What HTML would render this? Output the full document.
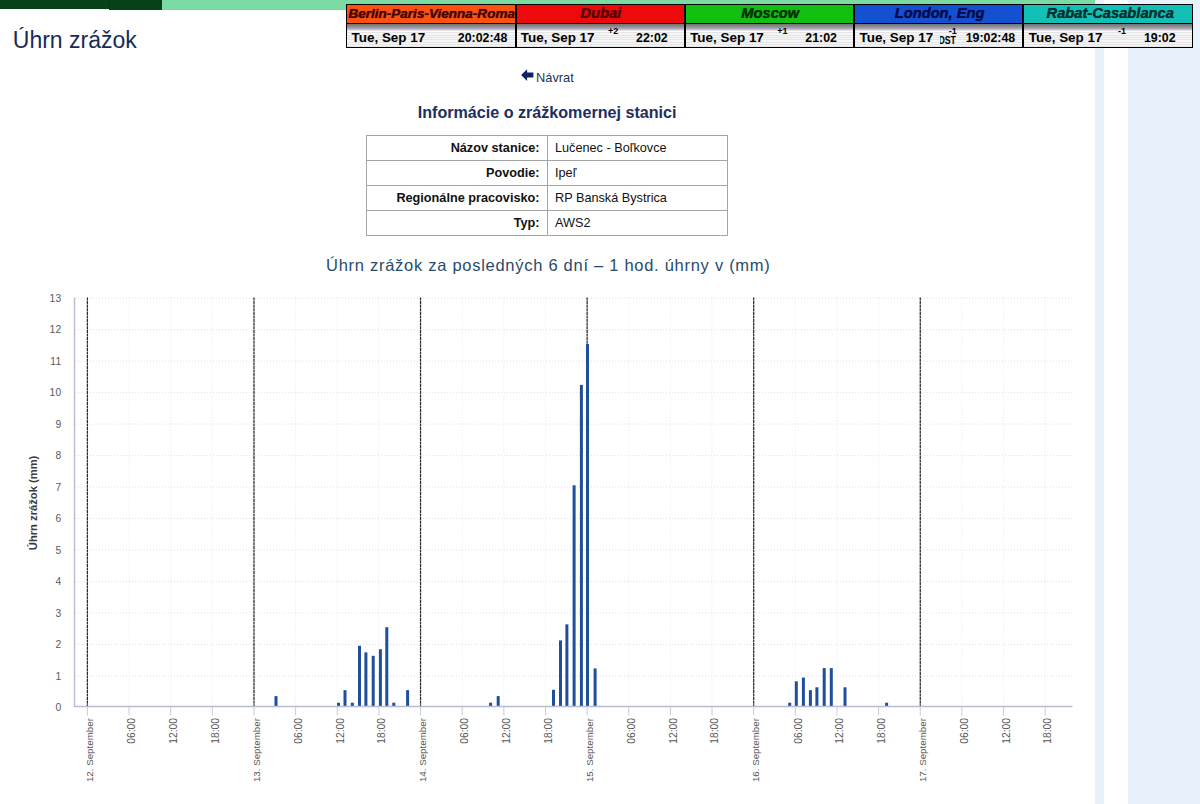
<!DOCTYPE html>
<html lang="sk"><head><meta charset="utf-8"><title>Úhrn zrážok</title>
<style>
html,body{margin:0;padding:0}
html{width:1200px;height:804px;overflow:hidden}
body{width:1200px;height:804px;position:relative;overflow:hidden;background:#fff;font-family:"Liberation Sans",sans-serif;}
.abs{position:absolute}
.g1{left:0;top:0;width:109px;height:8.6px;background:#06411a}
.g2{left:109px;top:0;width:53px;height:9.7px;background:#06411a}
.g3{left:162px;top:0;width:933.8px;height:9.6px;background:#7cdba3}
.col1{left:1095px;top:0;width:9px;height:804px;background:#e9f1fa}
.col2{left:1127.5px;top:0;width:72.5px;height:804px;background:#e8f2fc}
h1{position:absolute;left:12.8px;top:25.3px;margin:0;font-weight:normal;font-size:23px;line-height:30px;color:#182b59;white-space:nowrap}
.back{position:absolute;left:536.1px;top:68.8px;font-size:12.8px;line-height:18px;color:#22325a;white-space:nowrap}
.arrow{position:absolute;left:520.8px;top:69px}
h2{position:absolute;left:0;width:1094.2px;top:102px;margin:0;text-align:center;font-size:16.12px;line-height:20px;font-weight:bold;color:#1c2f5e;white-space:nowrap}
table.info{position:absolute;left:366px;top:135px;width:362px;table-layout:fixed;border-collapse:collapse;font-size:12.7px;color:#111}
table.info td{border:1px solid #a5a5a5;height:24px;padding:0 7px 0 7.5px;line-height:16px;white-space:nowrap}
table.info td.l{width:50%;text-align:right;font-weight:bold}
table.info td.r{width:50%;text-align:left}
.ctitle{position:absolute;left:0;width:1096.6px;top:254.4px;text-align:center;font-size:16.5px;line-height:22px;color:#274b6d;letter-spacing:0.72px;white-space:nowrap}
svg.chart{position:absolute;left:0;top:270px}
.g{stroke:#e0e0e0;stroke-width:1;stroke-dasharray:1 2;fill:none}
.g.v{stroke:#e8e8e8}
.d{stroke:#2a2a2a;stroke-width:1.25;stroke-dasharray:3.1 0.5;fill:none}
.b{fill:#1f4f9b}
.ax{stroke:#b9bdd4;stroke-width:1.4;fill:none}
.tk{stroke:#c6cade;stroke-width:1;fill:none}
.xl{font-family:"Liberation Sans",sans-serif;font-size:9.7px;fill:#555}
.xt{font-size:10.25px}
.xd{font-size:9.75px}
.yl{font-family:"Liberation Sans",sans-serif;font-size:10.3px;letter-spacing:0.3px;fill:#5a5a5a}
.yt{font-family:"Liberation Sans",sans-serif;font-size:11.2px;fill:#3c3c3c;font-weight:bold}
.clock{position:absolute;left:346.25px;top:4px;width:846.75px;height:44px;background:#000}
.cc{position:absolute;top:0;height:44px;box-sizing:border-box;border-left:1.2px solid #000;border-right:0.6px solid #000;border-top:1px solid #000;border-bottom:1px solid #000}
.ct{position:absolute;left:0;right:0;top:0;height:18px;text-align:center;font-weight:bold;font-style:italic;line-height:17.2px;white-space:nowrap;overflow:hidden;text-shadow:0 0 0.7px currentColor}
.ct span{position:relative;left:0.8px}
.cb{position:absolute;left:0;right:0;top:19px;bottom:0;background:linear-gradient(#707570 0,#8c8c90 2.5px,#b4aec0 5px,#fff 7.3px,rgba(255,255,255,0) 8px),repeating-linear-gradient(#f6f6f6 0,#f6f6f6 1.1px,#e5e5e5 1.3px,#e5e5e5 2.2px,#f6f6f6 2.35px);font-weight:bold;color:#000;font-size:13px;line-height:16px;white-space:nowrap}
.cb span{position:absolute}
.dt{left:4.3px;top:6.1px;font-size:13.45px}
.tm{left:105.3px;width:60px;text-align:center;top:6.1px;font-size:12.4px}
.off{right:65.7px;top:2.2px;font-size:9px;line-height:10px}
.dst{left:84.6px;top:10.2px;width:16px;height:12px;overflow:hidden;font-size:11px;line-height:12px}
.dst i{position:absolute;right:0;top:0;font-style:normal;transform:scaleX(0.8);transform-origin:100% 50%}
</style></head>
<body>
<div class="abs g3"></div><div class="abs g1"></div><div class="abs g2"></div><div class="abs" style="left:108.6px;top:0;width:1.2px;height:9.7px;background:#05361a"></div>
<div class="abs col1"></div><div class="abs col2"></div>
<div class="clock">
<div class="cc" style="left:0.00px;width:169.31px"><div class="ct" style="background:#ff5210;color:#470500;font-size:13.55px"><span style="left:0.8px">Berlin-Paris-Vienna-Roma</span></div><div class="cb"><span class="dt">Tue, Sep 17</span><span class="tm">20:02:48</span></div></div>
<div class="cc" style="left:169.31px;width:169.31px"><div class="ct" style="background:#ee0a0a;color:#560000;font-size:14.7px"><span style="left:0.8px">Dubai</span></div><div class="cb"><span class="dt">Tue, Sep 17</span><span class="off">+2</span><span class="tm">22:02</span></div></div>
<div class="cc" style="left:338.62px;width:169.31px"><div class="ct" style="background:#12c012;color:#003000;font-size:14.7px"><span style="left:0.8px">Moscow</span></div><div class="cb"><span class="dt">Tue, Sep 17</span><span class="off">+1</span><span class="tm">21:02</span></div></div>
<div class="cc" style="left:507.93px;width:169.31px"><div class="ct" style="background:#1450d2;color:#000c4c;font-size:14.7px"><span style="left:0.8px">London, Eng</span></div><div class="cb"><span class="dt">Tue, Sep 17</span><span class="off">-1</span><span class="dst"><i>DST</i></span><span class="tm">19:02:48</span></div></div>
<div class="cc" style="left:677.24px;width:169.31px"><div class="ct" style="background:#12c0b8;color:#003030;font-size:14.7px"><span style="left:2.1px">Rabat-Casablanca</span></div><div class="cb"><span class="dt">Tue, Sep 17</span><span class="off">-1</span><span class="tm">19:02</span></div></div>
</div>
<h1>Úhrn zrážok</h1>
<svg class="arrow" width="13" height="13" viewBox="0 0 13 13"><path d="M6.1 0.2 L6.1 3.4 L12.4 3.4 L12.4 8.5 L6.1 8.5 L6.1 11.9 L0.1 6 Z" fill="#0f2268"/></svg>
<div class="back">Návrat</div>
<h2>Informácie o zrážkomernej stanici</h2>
<table class="info">
<tr><td class="l">Názov stanice:</td><td class="r">Lučenec - Boľkovce</td></tr>
<tr><td class="l">Povodie:</td><td class="r">Ipeľ</td></tr>
<tr><td class="l">Regionálne pracovisko:</td><td class="r">RP Banská Bystrica</td></tr>
<tr><td class="l">Typ:</td><td class="r">AWS2</td></tr>
</table>
<div class="ctitle">Úhrn zrážok za posledných 6 dní – 1 hod. úhrny v (mm)</div>
<svg class="chart" width="1095" height="534" viewBox="0 270 1095 534">
<line x1="75" x2="1072" y1="675.83" y2="675.83" class="g"/>
<line x1="75" x2="1072" y1="644.36" y2="644.36" class="g"/>
<line x1="75" x2="1072" y1="612.89" y2="612.89" class="g"/>
<line x1="75" x2="1072" y1="581.42" y2="581.42" class="g"/>
<line x1="75" x2="1072" y1="549.95" y2="549.95" class="g"/>
<line x1="75" x2="1072" y1="518.48" y2="518.48" class="g"/>
<line x1="75" x2="1072" y1="487.01" y2="487.01" class="g"/>
<line x1="75" x2="1072" y1="455.54" y2="455.54" class="g"/>
<line x1="75" x2="1072" y1="424.07" y2="424.07" class="g"/>
<line x1="75" x2="1072" y1="392.60" y2="392.60" class="g"/>
<line x1="75" x2="1072" y1="361.13" y2="361.13" class="g"/>
<line x1="75" x2="1072" y1="329.66" y2="329.66" class="g"/>
<line x1="75" x2="1072" y1="298.19" y2="298.19" class="g"/>
<line x1="129.04" x2="129.04" y1="297.39" y2="706.50" class="g v"/>
<line x1="170.69" x2="170.69" y1="297.39" y2="706.50" class="g v"/>
<line x1="212.33" x2="212.33" y1="297.39" y2="706.50" class="g v"/>
<line x1="295.62" x2="295.62" y1="297.39" y2="706.50" class="g v"/>
<line x1="337.26" x2="337.26" y1="297.39" y2="706.50" class="g v"/>
<line x1="378.90" x2="378.90" y1="297.39" y2="706.50" class="g v"/>
<line x1="462.19" x2="462.19" y1="297.39" y2="706.50" class="g v"/>
<line x1="503.83" x2="503.83" y1="297.39" y2="706.50" class="g v"/>
<line x1="545.47" x2="545.47" y1="297.39" y2="706.50" class="g v"/>
<line x1="628.76" x2="628.76" y1="297.39" y2="706.50" class="g v"/>
<line x1="670.40" x2="670.40" y1="297.39" y2="706.50" class="g v"/>
<line x1="712.04" x2="712.04" y1="297.39" y2="706.50" class="g v"/>
<line x1="795.33" x2="795.33" y1="297.39" y2="706.50" class="g v"/>
<line x1="836.97" x2="836.97" y1="297.39" y2="706.50" class="g v"/>
<line x1="878.62" x2="878.62" y1="297.39" y2="706.50" class="g v"/>
<line x1="961.90" x2="961.90" y1="297.39" y2="706.50" class="g v"/>
<line x1="1003.55" x2="1003.55" y1="297.39" y2="706.50" class="g v"/>
<line x1="1045.19" x2="1045.19" y1="297.39" y2="706.50" class="g v"/>
<line x1="87.40" x2="87.40" y1="297.39" y2="706.50" class="d"/>
<line x1="253.97" x2="253.97" y1="297.39" y2="706.50" class="d"/>
<line x1="420.54" x2="420.54" y1="297.39" y2="706.50" class="d"/>
<line x1="587.12" x2="587.12" y1="297.39" y2="706.50" class="d"/>
<line x1="753.69" x2="753.69" y1="297.39" y2="706.50" class="d"/>
<line x1="920.26" x2="920.26" y1="297.39" y2="706.50" class="d"/>
<rect x="274.50" y="696.11" width="3" height="10.39" class="b"/>
<rect x="337.00" y="702.72" width="3" height="3.78" class="b"/>
<rect x="343.50" y="690.14" width="3" height="16.36" class="b"/>
<rect x="350.80" y="702.72" width="3" height="3.78" class="b"/>
<rect x="358.00" y="645.76" width="3" height="60.74" class="b"/>
<rect x="364.40" y="652.37" width="3" height="54.13" class="b"/>
<rect x="371.70" y="655.83" width="3" height="50.67" class="b"/>
<rect x="378.90" y="649.22" width="3" height="57.28" class="b"/>
<rect x="385.30" y="627.20" width="3" height="79.30" class="b"/>
<rect x="392.30" y="702.72" width="3" height="3.78" class="b"/>
<rect x="406.10" y="690.14" width="3" height="16.36" class="b"/>
<rect x="489.10" y="702.72" width="3" height="3.78" class="b"/>
<rect x="496.70" y="696.11" width="3" height="10.39" class="b"/>
<rect x="552.00" y="689.82" width="3" height="16.68" class="b"/>
<rect x="559.00" y="640.41" width="3" height="66.09" class="b"/>
<rect x="565.40" y="624.36" width="3" height="82.14" class="b"/>
<rect x="572.60" y="485.27" width="3" height="221.23" class="b"/>
<rect x="579.90" y="384.88" width="3" height="321.62" class="b"/>
<rect x="586.00" y="343.97" width="3" height="362.53" class="b"/>
<rect x="593.60" y="668.42" width="3" height="38.08" class="b"/>
<rect x="788.20" y="702.72" width="3" height="3.78" class="b"/>
<rect x="794.80" y="681.32" width="3" height="25.18" class="b"/>
<rect x="801.90" y="677.55" width="3" height="28.95" class="b"/>
<rect x="808.90" y="690.14" width="3" height="16.36" class="b"/>
<rect x="815.40" y="687.30" width="3" height="19.20" class="b"/>
<rect x="822.70" y="668.11" width="3" height="38.39" class="b"/>
<rect x="829.80" y="668.11" width="3" height="38.39" class="b"/>
<rect x="843.50" y="687.30" width="3" height="19.20" class="b"/>
<rect x="885.10" y="702.72" width="3" height="3.78" class="b"/>
<line x1="74.5" x2="74.5" y1="297.39" y2="707.00" class="ax"/>
<line x1="74" x2="1072.5" y1="706.50" y2="706.50" class="ax"/>
<line x1="87.40" x2="87.40" y1="706.50" y2="715.50" class="tk"/>
<text class="xl xd" text-anchor="end" transform="translate(93.20,718.10) rotate(-90)">12. September</text>
<line x1="129.04" x2="129.04" y1="706.50" y2="715.50" class="tk"/>
<text class="xl xt" text-anchor="end" transform="translate(135.34,718.10) rotate(-90)">06:00</text>
<line x1="170.69" x2="170.69" y1="706.50" y2="715.50" class="tk"/>
<text class="xl xt" text-anchor="end" transform="translate(176.99,718.10) rotate(-90)">12:00</text>
<line x1="212.33" x2="212.33" y1="706.50" y2="715.50" class="tk"/>
<text class="xl xt" text-anchor="end" transform="translate(218.63,718.10) rotate(-90)">18:00</text>
<line x1="253.97" x2="253.97" y1="706.50" y2="715.50" class="tk"/>
<text class="xl xd" text-anchor="end" transform="translate(259.77,718.10) rotate(-90)">13. September</text>
<line x1="295.62" x2="295.62" y1="706.50" y2="715.50" class="tk"/>
<text class="xl xt" text-anchor="end" transform="translate(301.92,718.10) rotate(-90)">06:00</text>
<line x1="337.26" x2="337.26" y1="706.50" y2="715.50" class="tk"/>
<text class="xl xt" text-anchor="end" transform="translate(343.56,718.10) rotate(-90)">12:00</text>
<line x1="378.90" x2="378.90" y1="706.50" y2="715.50" class="tk"/>
<text class="xl xt" text-anchor="end" transform="translate(385.20,718.10) rotate(-90)">18:00</text>
<line x1="420.54" x2="420.54" y1="706.50" y2="715.50" class="tk"/>
<text class="xl xd" text-anchor="end" transform="translate(426.34,718.10) rotate(-90)">14. September</text>
<line x1="462.19" x2="462.19" y1="706.50" y2="715.50" class="tk"/>
<text class="xl xt" text-anchor="end" transform="translate(468.49,718.10) rotate(-90)">06:00</text>
<line x1="503.83" x2="503.83" y1="706.50" y2="715.50" class="tk"/>
<text class="xl xt" text-anchor="end" transform="translate(510.13,718.10) rotate(-90)">12:00</text>
<line x1="545.47" x2="545.47" y1="706.50" y2="715.50" class="tk"/>
<text class="xl xt" text-anchor="end" transform="translate(551.77,718.10) rotate(-90)">18:00</text>
<line x1="587.12" x2="587.12" y1="706.50" y2="715.50" class="tk"/>
<text class="xl xd" text-anchor="end" transform="translate(592.92,718.10) rotate(-90)">15. September</text>
<line x1="628.76" x2="628.76" y1="706.50" y2="715.50" class="tk"/>
<text class="xl xt" text-anchor="end" transform="translate(635.06,718.10) rotate(-90)">06:00</text>
<line x1="670.40" x2="670.40" y1="706.50" y2="715.50" class="tk"/>
<text class="xl xt" text-anchor="end" transform="translate(676.70,718.10) rotate(-90)">12:00</text>
<line x1="712.04" x2="712.04" y1="706.50" y2="715.50" class="tk"/>
<text class="xl xt" text-anchor="end" transform="translate(718.34,718.10) rotate(-90)">18:00</text>
<line x1="753.69" x2="753.69" y1="706.50" y2="715.50" class="tk"/>
<text class="xl xd" text-anchor="end" transform="translate(759.49,718.10) rotate(-90)">16. September</text>
<line x1="795.33" x2="795.33" y1="706.50" y2="715.50" class="tk"/>
<text class="xl xt" text-anchor="end" transform="translate(801.63,718.10) rotate(-90)">06:00</text>
<line x1="836.97" x2="836.97" y1="706.50" y2="715.50" class="tk"/>
<text class="xl xt" text-anchor="end" transform="translate(843.27,718.10) rotate(-90)">12:00</text>
<line x1="878.62" x2="878.62" y1="706.50" y2="715.50" class="tk"/>
<text class="xl xt" text-anchor="end" transform="translate(884.92,718.10) rotate(-90)">18:00</text>
<line x1="920.26" x2="920.26" y1="706.50" y2="715.50" class="tk"/>
<text class="xl xd" text-anchor="end" transform="translate(926.06,718.10) rotate(-90)">17. September</text>
<line x1="961.90" x2="961.90" y1="706.50" y2="715.50" class="tk"/>
<text class="xl xt" text-anchor="end" transform="translate(968.20,718.10) rotate(-90)">06:00</text>
<line x1="1003.55" x2="1003.55" y1="706.50" y2="715.50" class="tk"/>
<text class="xl xt" text-anchor="end" transform="translate(1009.85,718.10) rotate(-90)">12:00</text>
<line x1="1045.19" x2="1045.19" y1="706.50" y2="715.50" class="tk"/>
<text class="xl xt" text-anchor="end" transform="translate(1051.49,718.10) rotate(-90)">18:00</text>
<text class="yl" text-anchor="end" x="61.6" y="711.00">0</text>
<text class="yl" text-anchor="end" x="61.6" y="679.53">1</text>
<text class="yl" text-anchor="end" x="61.6" y="648.06">2</text>
<text class="yl" text-anchor="end" x="61.6" y="616.59">3</text>
<text class="yl" text-anchor="end" x="61.6" y="585.12">4</text>
<text class="yl" text-anchor="end" x="61.6" y="553.65">5</text>
<text class="yl" text-anchor="end" x="61.6" y="522.18">6</text>
<text class="yl" text-anchor="end" x="61.6" y="490.71">7</text>
<text class="yl" text-anchor="end" x="61.6" y="459.24">8</text>
<text class="yl" text-anchor="end" x="61.6" y="427.77">9</text>
<text class="yl" text-anchor="end" x="61.6" y="396.30">10</text>
<text class="yl" text-anchor="end" x="61.6" y="364.83">11</text>
<text class="yl" text-anchor="end" x="61.6" y="333.36">12</text>
<text class="yl" text-anchor="end" x="61.6" y="301.89">13</text>
<text class="yt" text-anchor="middle" transform="translate(36.6,502.94) rotate(-90)">Úhrn zrážok (mm)</text>
</svg>
</body></html>
